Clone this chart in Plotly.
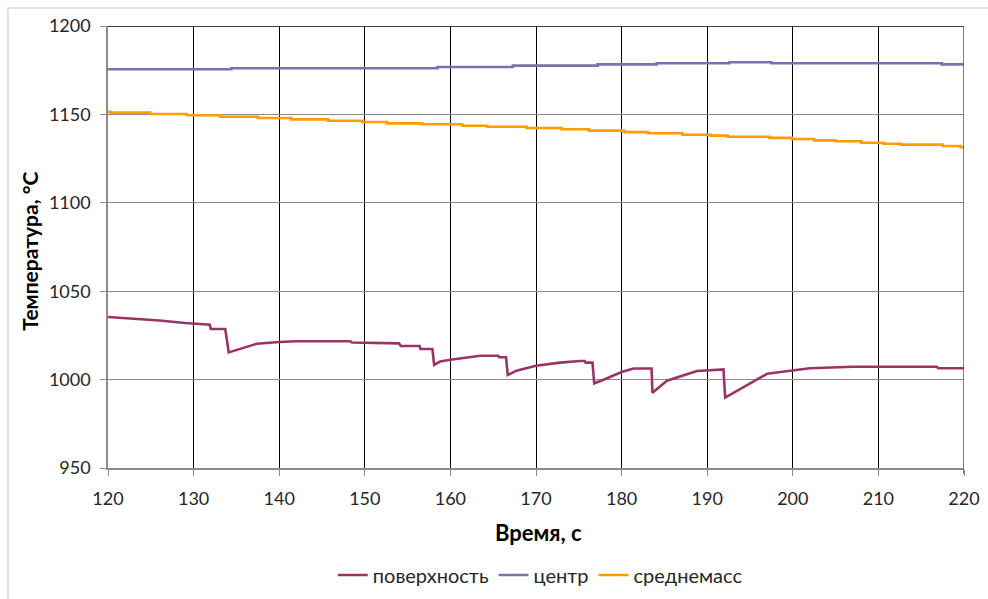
import plotly.graph_objects as go

# Time axis (s) and temperature series (°C)
surf_t = [120, 123, 126, 129, 131.9, 132.0, 133.7, 134.1, 135.5, 137.4, 140, 142,
          148.3, 148.5, 154.0, 154.2, 156.4, 156.5, 157.9, 158.1, 158.8, 160, 163.5,
          165.6, 165.7, 166.5, 166.7, 167.7, 170, 172.8, 175.1, 175.7, 175.8, 176.6,
          176.8, 177.9, 180, 181.4, 183.5, 183.6, 185.3, 188.8, 191.9, 192.1, 197,
          200, 202, 207, 216.8, 217.0, 220]
surf_T = [1035.4, 1034.5, 1033.4, 1032.0, 1031.0, 1028.6, 1028.6, 1015.4, 1017.5,
          1020.3, 1021.3, 1021.7, 1021.7, 1021.0, 1020.5, 1019.0, 1019.0, 1017.3,
          1017.3, 1008.3, 1010.2, 1011.2, 1013.5, 1013.5, 1012.6, 1012.6, 1002.6,
          1005.0, 1007.8, 1009.6, 1010.5, 1010.5, 1009.6, 1009.6, 997.9, 999.9,
          1004.3, 1006.3, 1006.3, 992.6, 999.4, 1004.9, 1005.8, 989.8, 1003.3,
          1005.0, 1006.4, 1007.3, 1007.3, 1006.4, 1006.4]

center_t = [120, 134.4, 158.5, 167.3, 177.2, 184.1, 192.6, 197.5, 217.4, 220]
center_T = [1175.5, 1176.1, 1176.8, 1177.6, 1178.3, 1178.9, 1179.5, 1178.9, 1178.3, 1178.3]

mean_t = [120, 120.3, 124.9, 129.2, 133.1, 137.5, 141.4, 145.7, 149.7, 152.6, 156.7,
          161.4, 164.3, 168.9, 173.0, 176.2, 180.3, 183.1, 187.1, 190.4, 192.4,
          197.3, 199.9, 202.5, 205.0, 208.0, 210.6, 212.6, 217.5, 219.6, 220]
mean_T = [1151.5, 1151.0, 1150.2, 1149.5, 1148.7, 1148.0, 1147.2, 1146.4, 1145.7,
          1144.9, 1144.4, 1143.6, 1143.0, 1142.3, 1141.6, 1140.8, 1140.0, 1139.3,
          1138.5, 1138.0, 1137.4, 1136.7, 1136.1, 1135.3, 1134.8, 1134.0, 1133.4,
          1132.9, 1132.1, 1131.4, 1131.4]

FONT = "Lato"
TXT = "#262626"

fig = go.Figure()
fig.add_trace(go.Scatter(x=surf_t, y=surf_T, mode="lines", name="поверхность",
                         line=dict(color="#9B3466", width=2.6)))
fig.add_trace(go.Scatter(x=center_t, y=center_T, mode="lines", name="центр",
                         line=dict(color="#7474AE", width=2.6, shape="hv")))
fig.add_trace(go.Scatter(x=mean_t, y=mean_T, mode="lines", name="среднемасс",
                         line=dict(color="#FF9C00", width=2.6, shape="hv")))

fig.update_layout(
    width=988, height=599,
    margin=dict(l=108, r=24, t=26, b=131, autoexpand=False),
    paper_bgcolor="white", plot_bgcolor="white",
    font=dict(family=FONT, size=18, color=TXT),
    showlegend=True,
    legend=dict(orientation="h", x=0.505, xanchor="center", y=-0.242, yanchor="middle",
                font=dict(size=20, color=TXT), itemwidth=30, tracegroupgap=0),
    xaxis=dict(range=[120, 220], dtick=10, tick0=120, showgrid=True, gridcolor="#000000",
               gridwidth=1, showline=True, linecolor="#8C8C8C", linewidth=1.5,
               ticks="outside", ticklen=6, tickcolor="#8C8C8C", ticklabelstandoff=8,
               zeroline=False, fixedrange=True),
    yaxis=dict(range=[950, 1200], dtick=50, tick0=950, showgrid=True, gridcolor="#8C8C8C",
               gridwidth=1.3, showline=True, linecolor="#8C8C8C", linewidth=1.5,
               ticks="outside", ticklen=6, tickcolor="#8C8C8C", ticklabelstandoff=6,
               zeroline=False, fixedrange=True),
    shapes=[
        # frame around the whole chart
        dict(type="rect", xref="paper", yref="paper", x0=-0.1168, x1=1.04, y0=-0.31, y1=1.0407,
             line=dict(color="#D9D9D9", width=1.5), layer="below"),
        # top and right edges of the plot area
        dict(type="line", xref="x", yref="y", x0=120, x1=220, y0=1200, y1=1200,
             line=dict(color="#000000", width=1.3)),
        dict(type="line", xref="x", yref="paper", x0=220, x1=220, y0=-0.013, y1=1,
             line=dict(color="#555555", width=1.5)),
    ],
    annotations=[
        dict(text="<b>Время, с</b>", xref="paper", yref="paper", x=0.503, y=-0.147,
             xanchor="center", yanchor="middle", showarrow=False,
             font=dict(size=22, color="#000000")),
        dict(text="<b>Температура, °C</b>", xref="paper", yref="paper", x=-0.092, y=0.49,
             xanchor="center", yanchor="middle", showarrow=False, textangle=-90,
             font=dict(size=21, color="#000000")),
    ],
)

fig.write_html("out.html")
